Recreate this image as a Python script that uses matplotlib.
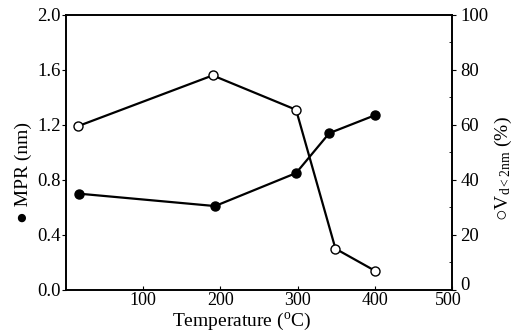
import matplotlib
matplotlib.use("Agg")
import matplotlib.pyplot as plt
import matplotlib.transforms as mtransforms
from matplotlib.ticker import MultipleLocator

plt.rcParams['font.family'] = ['Liberation Serif', 'DejaVu Sans']
plt.rcParams['mathtext.fontset'] = 'custom'
plt.rcParams['mathtext.rm'] = 'Liberation Serif'
plt.rcParams['mathtext.it'] = 'Liberation Serif'

# MPR (filled circles, left axis)
temp_mpr = [17, 193, 298, 341, 400]
mpr = [0.70, 0.61, 0.85, 1.14, 1.27]

# V_d<2nm (open circles, right axis)
temp_vd = [15, 190, 298, 349, 400]
vd = [59.5, 78, 65.5, 15, 7]

xticks = [100, 200, 300, 400, 500]

fig = plt.figure(figsize=(5.16, 3.31), dpi=100)
ax = fig.add_axes([0.128, 0.124, 0.748, 0.831])
ax2 = ax.twinx()

ax.plot(temp_mpr, mpr, color='black', lw=1.6, marker='o', ms=6.5,
        mfc='black', mec='black', zorder=3)
ax2.plot(temp_vd, vd, color='black', lw=1.6, marker='o', ms=6.5,
         mfc='white', mec='black', mew=1.0, zorder=3)

ax.set_xlim(0, 500)
ax.set_ylim(0, 2.0)
ax2.set_ylim(0, 100)
ax.set_xticks(xticks)
ax.set_yticks([0.0, 0.4, 0.8, 1.2, 1.6, 2.0])
ax.set_yticklabels(['0.0', '0.4', '0.8', '1.2', '1.6', '2.0'])
ax2.set_yticks([0, 20, 40, 60, 80, 100])
ax2.yaxis.set_minor_locator(MultipleLocator(10))

for a in (ax, ax2):
    for s in a.spines.values():
        s.set_linewidth(1.2)
ax.tick_params(axis='x', direction='in', length=3, labelsize=13, pad=1.5)
ax.tick_params(axis='y', direction='out', length=3, labelsize=13.5, pad=1)
ax2.tick_params(axis='y', which='major', direction='out', length=3, labelsize=13.5, pad=3)
ax2.tick_params(axis='y', which='minor', direction='in', length=2)

# keep the right-hand "0" and the "500" label from touching
fig.canvas.draw()
up = mtransforms.ScaledTranslation(0, 6 / 100, fig.dpi_scale_trans)
left = mtransforms.ScaledTranslation(-4 / 100, 0, fig.dpi_scale_trans)
for lbl in ax2.get_yticklabels():
    if lbl.get_text() == '0':
        lbl.set_transform(lbl.get_transform() + up)
for lbl in ax.get_xticklabels():
    if lbl.get_text() == '500':
        lbl.set_transform(lbl.get_transform() + left)

fig.text(0.045, 0.48, '\u25cf MPR (nm)', rotation=90, ha='center', va='center', fontsize=14)
fig.text(0.975, 0.49, '\u25cbV$_{d<2nm}$ (%)', rotation=90, ha='center', va='center', fontsize=14)
fig.text(0.468, 0.03, 'Temperature ($^{\\mathrm{o}}$C)', ha='center', va='center', fontsize=14)

fig.savefig('out.png', dpi=100)
